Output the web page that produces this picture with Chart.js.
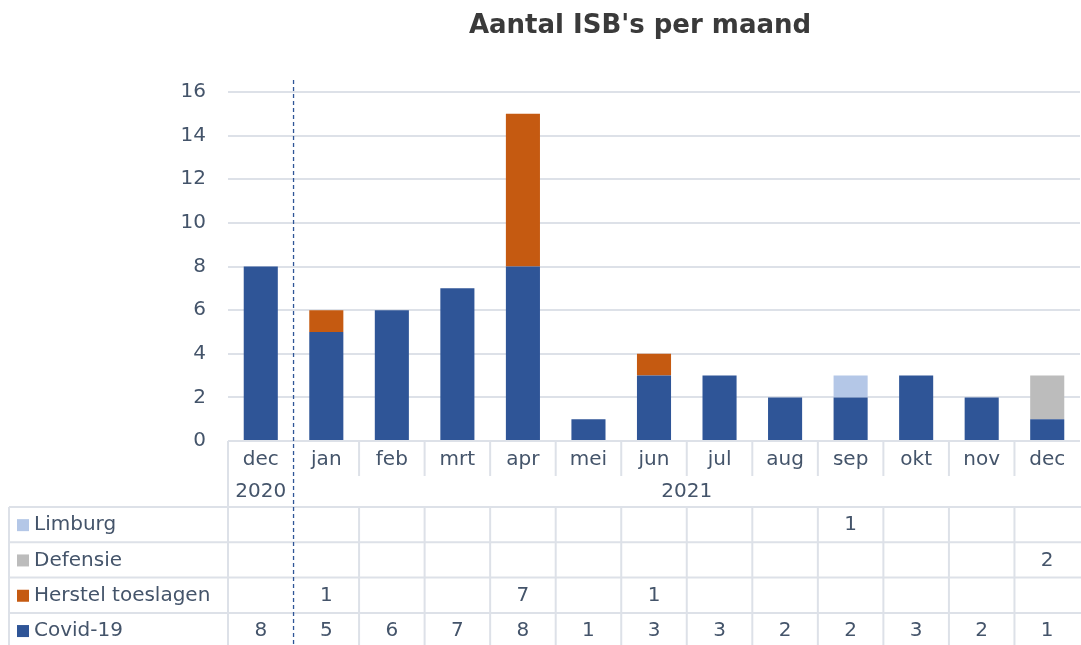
<!DOCTYPE html>
<html>
<head>
<meta charset="utf-8">
<script src="https://cdn.jsdelivr.net/npm/chart.js@4/dist/chart.umd.min.js"></script>
<style>
html, body { margin: 0; padding: 0; background: #fff; }
</style>
</head>
<body>
<canvas id="isbChart" width="1081" height="645"></canvas>
<script>
// data per maand (dec 2020 t/m dec 2021)
const maanden = ['dec', 'jan', 'feb', 'mrt', 'apr', 'mei', 'jun', 'jul', 'aug', 'sep', 'okt', 'nov', 'dec'];
const jaren = ['2020', '2021'];
const covid = [8, 5, 6, 7, 8, 1, 3, 3, 2, 2, 3, 2, 1];
const herstel = [null, 1, null, null, 7, null, 1, null, null, null, null, null, null];
const defensie = [null, null, null, null, null, null, null, null, null, null, null, null, 2];
const limburg = [null, null, null, null, null, null, null, null, null, 1, null, null, null];
const yTicks = [0, 2, 4, 6, 8, 10, 12, 14, 16];

const tekstKleur = '#44546a';
const lijnKleur = '#dde1e8';
const lettertype = '"DejaVu Sans", Verdana, sans-serif';

const series = [
    { label: 'Covid-19', data: covid, color: '#2f5597' },
    { label: 'Herstel toeslagen', data: herstel, color: '#c55a11' },
    { label: 'Defensie', data: defensie, color: '#bcbcbc' },
    { label: 'Limburg', data: limburg, color: '#b4c7e7' },
];

// tabel onder de grafiek + titel + stippellijn tussen de jaren
const tabelPlugin = {
    id: 'tabel',
    afterDraw(chart) {
        const ctx = chart.ctx;
        const xs = chart.scales.x;
        const area = chart.chartArea;
        const stap = (area.right - area.left) / maanden.length;
        const grens = k => area.left + k * stap;
        const rijTop = 507;
        const rijH = 35.3;
        const rijen = series.slice().reverse();
        ctx.save();

        // titel
        ctx.fillStyle = '#3a3a3a';
        ctx.font = 'bold 26px ' + lettertype;
        ctx.textAlign = 'center';
        ctx.textBaseline = 'middle';
        ctx.fillText("Aantal ISB's per maand", 640, 26);

        // lijnen
        ctx.strokeStyle = lijnKleur;
        ctx.lineWidth = 2;
        ctx.beginPath();
        for (let k = 0; k < maanden.length; k++) {
            if (k === 1) continue;
            ctx.moveTo(grens(k), area.bottom);
            ctx.lineTo(grens(k), k === 0 ? 645 : 476);
            if (k > 0) {
                ctx.moveTo(grens(k), rijTop);
                ctx.lineTo(grens(k), 645);
            }
        }
        ctx.moveTo(9, rijTop);
        ctx.lineTo(9, 645);
        for (let r = 0; r < rijen.length; r++) {
            const y = rijTop + r * rijH;
            ctx.moveTo(9, y);
            ctx.lineTo(1081, y);
        }
        ctx.stroke();

        // stippellijn tussen 2020 en 2021
        ctx.strokeStyle = '#2f5597';
        ctx.lineWidth = 1.3;
        ctx.setLineDash([4, 3]);
        ctx.beginPath();
        ctx.moveTo(grens(1), 80);
        ctx.lineTo(grens(1), 645);
        ctx.stroke();
        ctx.setLineDash([]);

        // maanden en jaren
        ctx.fillStyle = tekstKleur;
        ctx.font = '20px ' + lettertype;
        ctx.textAlign = 'center';
        maanden.forEach((m, i) => ctx.fillText(m, xs.getPixelForValue(i), 460));
        ctx.fillText(jaren[0], xs.getPixelForValue(0), 492);
        ctx.fillText(jaren[1], (xs.getPixelForValue(1) + xs.getPixelForValue(maanden.length - 1)) / 2, 492);

        // rijen met waarden
        rijen.forEach((s, r) => {
            const yc = rijTop + r * rijH + rijH / 2 + 0.5;
            ctx.fillStyle = s.color;
            ctx.fillRect(17, yc - 6, 12, 12);
            ctx.fillStyle = tekstKleur;
            ctx.textAlign = 'left';
            ctx.fillText(s.label, 34, yc);
            ctx.textAlign = 'center';
            s.data.forEach((v, i) => {
                if (v !== null) ctx.fillText(String(v), xs.getPixelForValue(i), yc);
            });
        });
        ctx.restore();
    },
};

const ctx = document.getElementById('isbChart').getContext('2d');
const isbChart = new Chart(ctx, {
    type: 'bar',
    data: {
        labels: maanden,
        datasets: series.map(s => ({
            label: s.label,
            data: s.data,
            backgroundColor: s.color,
            borderWidth: 0,
            categoryPercentage: 1,
            barPercentage: 0.52,
        })),
    },
    options: {
        responsive: false,
        animation: false,
        devicePixelRatio: 1,
        layout: { padding: { top: 92, bottom: 204, left: 0, right: 1 } },
        plugins: {
            legend: { display: false },
            title: { display: false },
            tooltip: { enabled: false },
        },
        scales: {
            x: {
                stacked: true,
                display: false,
            },
            y: {
                stacked: true,
                min: 0,
                max: 16,
                afterFit: s => { s.width = 228; },
                afterBuildTicks: s => { s.ticks = yTicks.map(v => ({ value: v })); },
                border: { display: false },
                grid: { color: lijnKleur, lineWidth: 2, drawTicks: false },
                ticks: {
                    color: tekstKleur,
                    padding: 22,
                    font: { family: lettertype, size: 20 },
                },
            },
        },
    },
    plugins: [tabelPlugin],
});
</script>
</body>
</html>
